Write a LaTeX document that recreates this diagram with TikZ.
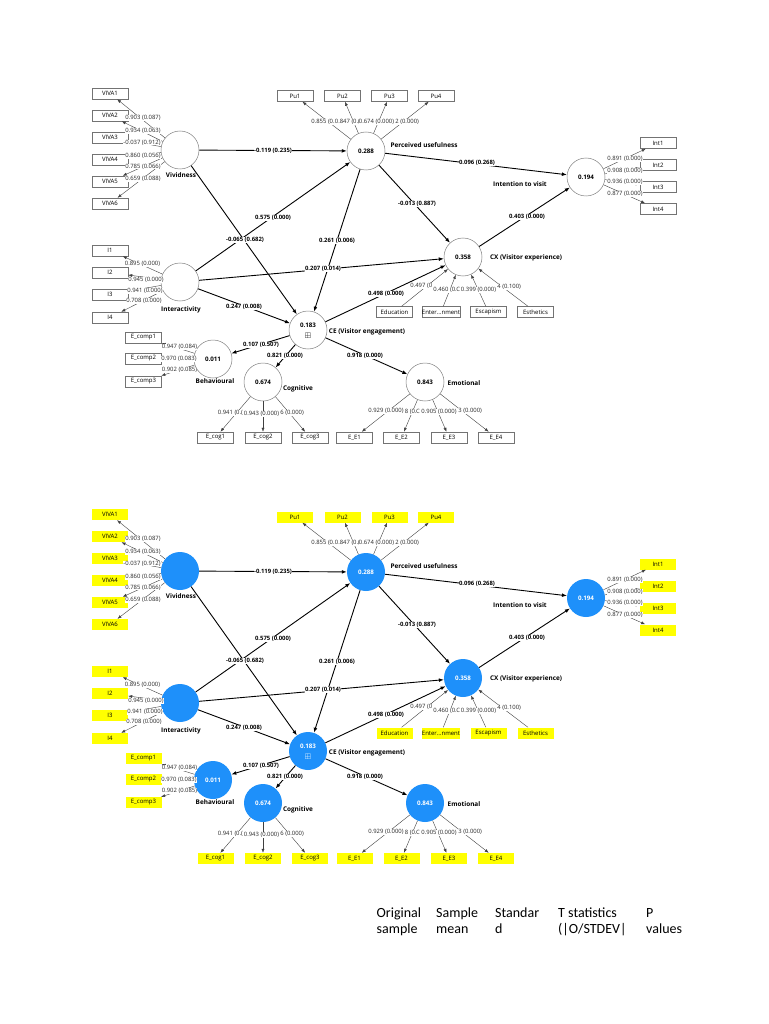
\documentclass[tikz,border=0pt]{standalone}
\usepackage{amssymb}
\usepackage{fontspec}
\setmainfont{Open Sans}
\newfontfamily\tabfont{Carlito}
\usetikzlibrary{arrows.meta}
\definecolor{lvblue}{RGB}{30,144,250}
\definecolor{indyel}{RGB}{255,255,0}
\tikzset{
  lat/.style={circle,minimum size=38pt,inner sep=0pt,draw=black!50,line width=0.5pt,fill=white,font=\fontsize{6.2}{7}\selectfont\bfseries},
  lattxt/.style={inner sep=0pt,text=black,font=\fontsize{6.2}{7}\selectfont\bfseries},
  ind/.style={rectangle,minimum width=36pt,minimum height=11pt,inner sep=0pt,draw=black!55,line width=0.5pt,fill=white,font=\fontsize{6}{6.5}\selectfont},
  mline/.style={draw=black!75,line width=0.4pt,-{Latex[length=4pt,width=3pt]}},
  sline/.style={draw=black,line width=0.9pt,-{Latex[length=5pt,width=3.8pt]}},
  ml/.style={fill=white,inner sep=0.2pt,font=\fontsize{5.9}{6.5}\selectfont,text=black!85},
  sl/.style={fill=white,inner sep=0.5pt,font=\fontsize{5.9}{6.5}\selectfont\bfseries},
  cname/.style={inner sep=0pt,font=\fontsize{6.4}{7}\selectfont\bfseries},
  tabtxt/.style={anchor=base west,inner sep=0pt,font=\tabfont\fontsize{14}{16}\selectfont},
}
\newcommand\semmodel{%
  % latent variables
  \node[lat] (viv) at (180,150) {};
  \node[lat] (inter) at (180,282) {};
  \node[lat] (pu) at (366,151) {0.288};
  \node[lat] (intv) at (586,177) {0.194};
  \node[lat] (cx) at (463,257) {0.358};
  \node[lat] (ce) at (308,330) {};
  \node[lattxt] (cenum) at (308,325) {0.183};
  \node[lattxt,font=\fontsize{8}{8}\selectfont] (ceplus) at (308,336) {$\boxplus$};
  \node[lat] (beh) at (213,359) {0.011};
  \node[lat] (cog) at (263,382) {0.674};
  \node[lat] (emo) at (425,382) {0.843};
  % construct names
  \node[cname] (nviv) at (181,175) {Vividness};
  \node[cname] (ninter) at (181,310) {Interactivity};
  \node[cname] (npu) at (424,145) {Perceived usefulness};
  \node[cname] (nintv) at (520,184) {Intention to visit};
  \node[cname] (ncx) at (526,258) {CX (Visitor experience)};
  \node[cname] (nce) at (367,332) {CE (Visitor engagement)};
  \node[cname] (nbeh) at (215,381) {Behavioural};
  \node[cname] (ncog) at (298,389) {Cognitive};
  \node[cname] (nemo) at (464,383) {Emotional};
  % indicators
  \node[ind] (v1) at (110,93.5) {VIVA1};
  \node[ind] (v2) at (110,115.5) {VIVA2};
  \node[ind] (v3) at (110,137.5) {VIVA3};
  \node[ind] (v4) at (110,159.5) {VIVA4};
  \node[ind] (v5) at (110,181.5) {VIVA5};
  \node[ind] (v6) at (110,203.5) {VIVA6};
  \node[ind] (i1) at (110,250.5) {I1};
  \node[ind] (i2) at (110,272.5) {I2};
  \node[ind] (i3) at (110,294.5) {I3};
  \node[ind] (i4) at (110,317.5) {I4};
  \node[ind] (c1) at (143.5,337.5) {E\_comp1};
  \node[ind] (c2) at (143.5,358.5) {E\_comp2};
  \node[ind] (c3) at (143.5,381.5) {E\_comp3};
  \node[ind] (p1) at (295,96) {Pu1};
  \node[ind] (p2) at (342.5,96) {Pu2};
  \node[ind] (p3) at (389.5,96) {Pu3};
  \node[ind] (p4) at (436,96) {Pu4};
  \node[ind] (n1) at (658,143) {Int1};
  \node[ind] (n2) at (658,165) {Int2};
  \node[ind] (n3) at (658,187) {Int3};
  \node[ind] (n4) at (658,209) {Int4};
  \node[ind] (x1) at (394.5,312) {Education};
  \node[ind] (x2) at (441,312) {Enter…nment};
  \node[ind] (x3) at (488.5,312) {Escapism};
  \node[ind] (x4) at (535.5,312) {Esthetics};
  \node[ind] (g1) at (215.5,437.5) {E\_cog1};
  \node[ind] (g2) at (263,437.5) {E\_cog2};
  \node[ind] (g3) at (310,437.5) {E\_cog3};
  \node[ind] (e1) at (354.5,437.5) {E\_E1};
  \node[ind] (e2) at (401.5,437.5) {E\_E2};
  \node[ind] (e3) at (449,437.5) {E\_E3};
  \node[ind] (e4) at (496,437.5) {E\_E4};
  % measurement lines
  \foreach \k in {v1,v2,v3,v4,v5,v6} {\draw[mline] (viv) -- (\k);}
  \foreach \k in {i1,i2,i3,i4} {\draw[mline] (inter) -- (\k);}
  \foreach \k in {c1,c2,c3} {\draw[mline] (beh) -- (\k);}
  \foreach \k in {p1,p2,p3,p4} {\draw[mline] (pu) -- (\k);}
  \foreach \k in {n1,n2,n3,n4} {\draw[mline] (intv) -- (\k);}
  \foreach \k in {x1,x2,x3,x4} {\draw[mline] (\k) -- (cx);}
  \foreach \k in {g1,g2,g3} {\draw[mline] (cog) -- (\k);}
  \foreach \k in {e1,e2,e3,e4} {\draw[mline] (emo) -- (\k);}
  % structural paths
  \draw[sline] (viv) -- (pu);
  \draw[sline] (viv) -- (ce);
  \draw[sline] (inter) -- (pu);
  \draw[sline] (inter) -- (cx);
  \draw[sline] (inter) -- (ce);
  \draw[sline] (pu) -- (ce);
  \draw[sline] (pu) -- (cx);
  \draw[sline] (pu) -- (intv);
  \draw[sline] (cx) -- (intv);
  \draw[sline] (ce) -- (cx);
  \draw[sline] (ce) -- (beh);
  \draw[sline] (ce) -- (cog);
  \draw[sline] (ce) -- (emo);
  % measurement labels
  \node[ml] (mv1) at (143,118) {0.903 (0.087)};
  \node[ml] (mv2) at (143,131) {0.934 (0.063)};
  \node[ml] (mv3) at (142,142.5) {-0.037 (0.912)};
  \node[ml] (mv4) at (143,156) {0.860 (0.056)};
  \node[ml] (mv5) at (143,166.5) {0.785 (0.066)};
  \node[ml] (mv6) at (143,179) {0.659 (0.088)};
  \node[ml] (mi1) at (142.5,264) {0.895 (0.000)};
  \node[ml] (mi2) at (146,280) {0.945 (0.000)};
  \node[ml] (mi3) at (145,291) {0.941 (0.000)};
  \node[ml] (mi4) at (144,301) {0.708 (0.000)};
  \node[ml] (mc1) at (179.5,347) {0.947 (0.084)};
  \node[ml] (mc2) at (179,359) {0.970 (0.083)};
  \node[ml] (mc3) at (179.5,370) {0.902 (0.085)};
  \node[ml] (mn1) at (625,159) {0.891 (0.000)};
  \node[ml] (mn2) at (625,171) {0.908 (0.000)};
  \node[ml] (mn3) at (625,182) {0.936 (0.000)};
  \node[ml] (mn4) at (625,194) {0.877 (0.000)};
  \node[ml,anchor=west] (mp1) at (311,122) {0.855 (0.};
  \node[ml,anchor=west] (mp2) at (334.5,122) {0.847 (0.(};
  \node[ml] (mp3) at (376.5,122) {0.674 (0.000)};
  \node[ml,anchor=west] (mp4) at (395,122) {2 (0.000)};
  \node[ml,anchor=west] (mx1) at (410,286) {0.497 (0};
  \node[ml,anchor=west] (mx2) at (433,290) {0.460 (0.C};
  \node[ml] (mx3) at (478.5,290) {0.399 (0.000)};
  \node[ml,anchor=west] (mx4) at (497,287) {4 (0.100)};
  \node[ml,anchor=west] (mg1) at (217.5,413) {0.941 (0.(};
  \node[ml] (mg2) at (261.5,414) {0.943 (0.000)};
  \node[ml,anchor=west] (mg3) at (280,413) {6 (0.000)};
  \node[ml] (me1) at (386,411) {0.929 (0.000)};
  \node[ml,anchor=west] (me2) at (404.5,412) {8 (0.C};
  \node[ml] (me3) at (439,412) {0.905 (0.000)};
  \node[ml,anchor=west] (me4) at (458,411) {3 (0.000)};
  % structural labels
  \node[sl] (s1) at (273,150.5) {-0.119 (0.235)};
  \node[sl] (s2) at (245,240) {-0.065 (0.682)};
  \node[sl] (s3) at (273,218) {0.575 (0.000)};
  \node[sl] (s4) at (337,241) {0.261 (0.006)};
  \node[sl] (s5) at (323,269) {0.207 (0.014)};
  \node[sl] (s6) at (244,307) {0.247 (0.008)};
  \node[sl] (s7) at (417,204) {-0.013 (0.887)};
  \node[sl] (s8) at (386,294) {0.498 (0.000)};
  \node[sl] (s9) at (477,163) {0.096 (0.268)};
  \node[sl] (s10) at (527,217) {0.403 (0.000)};
  \node[sl] (s11) at (261,345) {0.107 (0.507)};
  \node[sl] (s12) at (285,356) {0.821 (0.000)};
  \node[sl] (s13) at (365,356) {0.918 (0.000)};
}
\begin{document}
\begin{tikzpicture}[x=1pt,y=-1pt]
  \useasboundingbox[fill=white] (0,0) rectangle (768,1024);
  \begin{scope}[name prefix=t-]
    \semmodel
  \end{scope}
  \begin{scope}[shift={(0,421)},name prefix=b-,
      lat/.style={circle,minimum size=38pt,inner sep=0pt,draw=none,fill=lvblue,text=white,font=\fontsize{6.2}{7}\selectfont\bfseries},
      lattxt/.style={inner sep=0pt,text=white,font=\fontsize{6.2}{7}\selectfont\bfseries},
      ind/.style={rectangle,minimum width=36pt,minimum height=11pt,inner sep=0pt,draw=none,fill=indyel,font=\fontsize{6}{6.5}\selectfont}]
    \semmodel
  \end{scope}
  % table header
  \node[tabtxt] (ta1) at (376.5,917) {Original};
  \node[tabtxt] (ta2) at (376.5,933) {sample};
  \node[tabtxt] (tb1) at (436,917) {Sample};
  \node[tabtxt] (tb2) at (436,933) {mean};
  \node[tabtxt] (tc1) at (495,917) {Standar};
  \node[tabtxt] (tc2) at (495,933) {d};
  \node[tabtxt] (td1) at (558,917) {T statistics};
  \node[tabtxt] (td2) at (558,933) {(|O/STDEV|};
  \node[tabtxt] (te1) at (646,917) {P};
  \node[tabtxt] (te2) at (646,933) {values};
\end{tikzpicture}
\end{document}
